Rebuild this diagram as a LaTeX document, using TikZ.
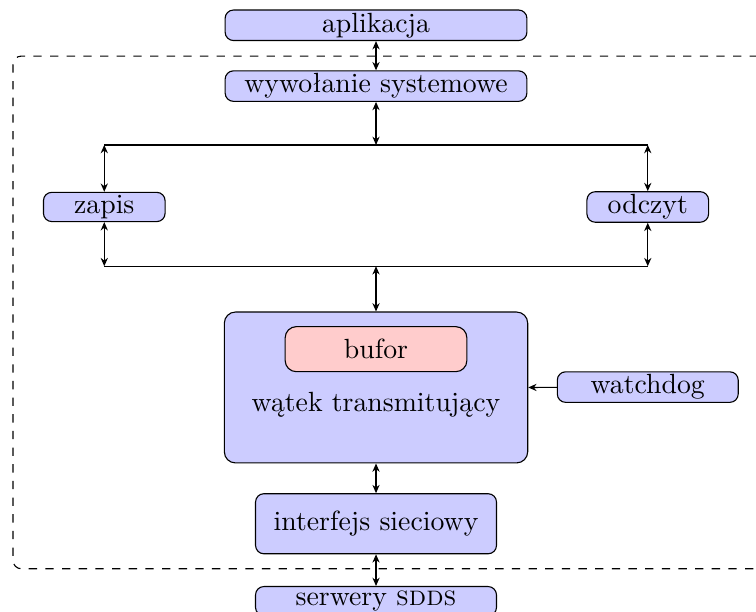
\documentclass[tikz,border=0pt]{standalone}
\usepackage{fontspec}
\usetikzlibrary{arrows.meta, positioning, calc}

\begin{document}
\begin{tikzpicture}[>={Stealth[length=3pt, width=2.6pt]},
        blok/.style={draw, rounded corners=3pt, fill=blue!20, inner sep=1pt, minimum height=0.37cm},
        duzy/.style={draw, rounded corners=4pt, fill=blue!20, minimum width=3.84cm, minimum height=1.91cm},
        bufbox/.style={draw, rounded corners=4pt, fill=red!20, minimum width=2.3cm, minimum height=0.57cm},
        strz/.style={<->}
    ]
    \useasboundingbox (0,0) rectangle (9.57,-7.747);
    % ramka systemu
    \draw[dashed, rounded corners=3pt] (0.165,-0.71) rectangle (9.9,-7.20);

    \node[blok, minimum width=3.82cm] (apl) at (4.76,-0.32) {aplikacja};
    \node[blok, minimum width=3.82cm] (wyw) at (4.76,-1.09) {wywołanie systemowe};
    \node[blok, minimum width=1.54cm] (zapis) at (1.32,-2.62) {zapis};
    \node[blok, minimum width=1.54cm] (odczyt) at (8.20,-2.62) {odczyt};
    \coordinate (gora) at (4.76,-1.835);
    \coordinate (dol) at (4.76,-3.37);

    \node[duzy] (watek) at (4.76,-4.905) {};
    \node[bufbox] (bufor) at (4.76,-4.42) {bufor};
    \node (watektxt) at (4.76,-5.13) {wątek transmitujący};
    \node[blok, minimum width=2.29cm] (watchdog) at (8.20,-4.90) {watchdog};

    \node[blok, minimum width=3.05cm, minimum height=0.76cm] (siec) at (4.76,-6.63) {interfejs sieciowy};
    \node[blok, minimum width=3.05cm] (serwery) at (4.76,-7.61) {serwery \textsc{sdds}};

    % polaczenia
    \draw[strz] (apl) -- (wyw);
    \draw[strz] (wyw) -- (gora);
    \draw (zapis.north |- gora) -- (odczyt.north |- gora);
    \draw (zapis.south |- dol) -- (odczyt.south |- dol);
    \draw[strz] (zapis.north |- gora) -- (zapis.north);
    \draw[strz] (odczyt.north |- gora) -- (odczyt.north);
    \draw[strz] (zapis.south) -- (zapis.south |- dol);
    \draw[strz] (odczyt.south) -- (odczyt.south |- dol);
    \draw[strz] (dol) -- (watek.north);
    \draw[->] (watchdog) -- (watek.east);
    \draw[strz] (watek) -- (siec);
    \draw[strz] (siec) -- (serwery);
\end{tikzpicture}
\end{document}
